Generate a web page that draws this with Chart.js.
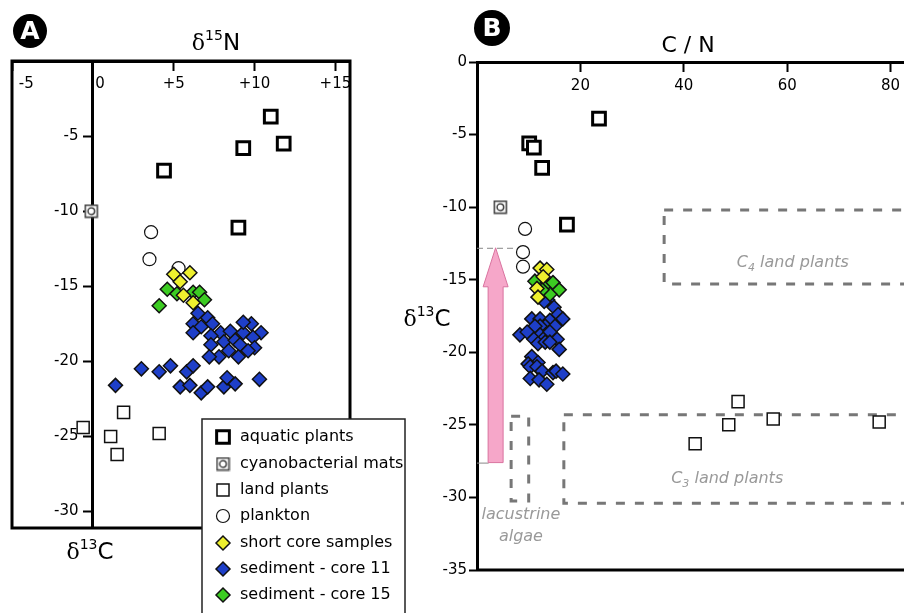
<!DOCTYPE html>
<html>
<head>
<meta charset="utf-8">
<script src="https://cdn.jsdelivr.net/npm/chart.js@4.4.0/dist/chart.umd.min.js"></script>
<style>
  body { margin: 0; background: #fff; width: 904px; height: 613px; overflow: hidden; position: relative; }
  #boxA { position: absolute; left: 0; top: 0; z-index: 2; }
  #boxB { position: absolute; left: 390px; top: 0; z-index: 1; }
</style>
</head>
<body>
<div id="boxA"><canvas id="chartA" width="420" height="613"></canvas></div>
<div id="boxB"><canvas id="chartB" width="514" height="613"></canvas></div>
<script>
// series names (legend order)
var seriesNames = ["aquatic plants", "cyanobacterial mats", "land plants", "plankton",
                   "short core samples", "sediment - core 11", "sediment - core 15"];

// panel A: [d15N, d13C]
var aquaticA = [[11.0, -3.7], [11.8, -5.5], [9.3, -5.8], [4.4, -7.3], [9.0, -11.1]];
var matsA = [[-0.1, -10.0]];
var landA = [[1.9, -23.4], [-0.6, -24.4], [4.1, -24.8], [1.1, -25.0], [1.5, -26.2]];
var planktonA = [[3.6, -11.4], [3.5, -13.2], [5.3, -13.8]];
var shortCoreA = [[5.0, -14.2], [6.0, -14.1], [5.4, -14.7], [5.6, -15.6], [6.2, -16.1]];
var core15A = [[4.6, -15.2], [5.2, -15.5], [4.1, -16.3], [6.2, -15.4], [6.6, -15.4], [6.9, -15.9]];
var core11A = [[6.5, -16.8], [6.2, -17.5], [7.1, -17.1], [6.7, -17.7], [6.2, -18.1], [7.4, -17.5],
  [7.9, -18.1], [7.3, -18.3], [8.5, -18.0], [9.3, -18.1], [9.8, -17.5], [9.3, -17.4], [10.4, -18.1],
  [9.9, -18.4], [8.1, -18.7], [8.8, -18.6], [7.3, -18.9], [9.1, -18.9], [10.0, -19.1], [9.6, -19.3],
  [8.4, -19.3], [7.8, -19.7], [7.2, -19.7], [9.0, -19.7], [3.0, -20.5], [4.8, -20.3], [4.1, -20.7],
  [5.8, -20.7], [6.2, -20.3], [1.4, -21.6], [5.4, -21.7], [6.0, -21.6], [6.7, -22.1], [7.1, -21.7],
  [8.1, -21.7], [8.3, -21.1], [8.8, -21.5], [10.3, -21.2]];

// panel B: [C/N, d13C]
var aquaticB = [[23.6, -3.9], [10.1, -5.6], [11.0, -5.9], [12.6, -7.3], [17.4, -11.2]];
var matsB = [[4.5, -10.0]];
var landB = [[50.5, -23.4], [57.3, -24.6], [77.8, -24.8], [48.7, -25.0], [42.2, -26.3]];
var planktonB = [[9.3, -11.5], [8.9, -13.1], [8.9, -14.1]];
var shortCoreB = [[12.2, -14.2], [13.5, -14.3], [12.8, -14.8], [11.6, -15.6], [11.8, -16.2]];
var core15B = [[11.2, -15.1], [13.5, -15.4], [14.7, -15.2], [15.9, -15.7], [14.1, -16.0], [12.6, -15.7]];
var core11B = [[13.7, -16.4], [13.0, -16.5], [14.9, -16.9], [15.7, -17.4], [16.6, -17.7], [10.6, -17.7],
  [12.2, -17.7], [14.1, -17.8], [13.2, -18.2], [10.8, -18.4], [12.2, -18.2], [11.2, -18.2], [15.1, -18.2],
  [8.3, -18.8], [9.7, -18.6], [12.2, -18.8], [14.1, -18.6], [11.0, -19.1], [12.8, -19.1], [15.5, -19.1],
  [11.8, -19.4], [13.2, -19.3], [14.1, -19.3], [15.9, -19.8], [10.6, -20.3], [11.8, -20.7], [9.9, -20.8],
  [10.3, -21.0], [11.6, -21.0], [12.6, -21.3], [14.7, -21.4], [15.3, -21.3], [16.6, -21.5], [10.3, -21.8],
  [12.0, -21.9], [13.5, -22.2]];

// ticks
var xTicksA = [-5, 0, 5, 10, 15];
var xLabelsA = ["-5", "0", "+5", "+10", "+15"];
var yTicksA = [-5, -10, -15, -20, -25, -30];
var xTicksB = [20, 40, 60, 80];
var yTicksB = [0, -5, -10, -15, -20, -25, -30, -35];

// reference ranges in panel B  [C/N from, C/N to, d13C low, d13C high]
var c4Range = [36.2, 95, -15.3, -10.2];
var c3Range = [16.8, 95, -30.4, -24.3];
var algaeRange = [6.6, 10.0, -30.25, -24.4];
var arrowCN = 3.6;
var arrowFrom = -27.6;
var arrowTo = -12.8;

var FONT = "'DejaVu Sans', sans-serif";

function matIcon() {
  var c = document.createElement('canvas');
  c.width = 15; c.height = 15;
  var g = c.getContext('2d');
  g.fillStyle = '#fff'; g.fillRect(1, 1, 13, 13);
  g.strokeStyle = '#444'; g.lineWidth = 1.6; g.strokeRect(1.5, 1.5, 12, 12);
  g.beginPath(); g.arc(7.5, 7.5, 3.3, 0, 2 * Math.PI);
  g.strokeStyle = '#222'; g.lineWidth = 1.3; g.stroke();
  return c;
}
var matImg = matIcon();

var styles = [
  {pointStyle: 'rect', radius: 9, borderWidth: 3, borderColor: '#000', backgroundColor: '#fff', order: 1},
  {pointStyle: matImg, radius: 7, borderWidth: 0, borderColor: '#444', backgroundColor: '#fff', order: 0},
  {pointStyle: 'rect', radius: 8.5, borderWidth: 1.5, borderColor: '#111', backgroundColor: '#fff', order: 2},
  {pointStyle: 'circle', radius: 6.5, borderWidth: 1.2, borderColor: '#111', backgroundColor: '#fff', order: 6},
  {pointStyle: 'rectRot', radius: 7, borderWidth: 1.5, borderColor: '#111', backgroundColor: '#eef02e', order: 3},
  {pointStyle: 'rectRot', radius: 7, borderWidth: 1.5, borderColor: '#111', backgroundColor: '#1e3fc8', order: 5},
  {pointStyle: 'rectRot', radius: 7, borderWidth: 1.5, borderColor: '#111', backgroundColor: '#3ccc22', order: 4}
];

function makeSets(groups) {
  return groups.map(function (g, i) {
    var s = styles[i];
    return {
      label: seriesNames[i],
      data: g.map(function (p) { return {x: p[0], y: p[1]}; }),
      pointStyle: s.pointStyle, pointRadius: s.radius, pointBorderWidth: s.borderWidth,
      pointBorderColor: s.borderColor, pointBackgroundColor: s.backgroundColor,
      order: s.order, clip: false
    };
  });
}

function rich(ctx, parts, x, y) {
  var w = 0;
  parts.forEach(function (p) { ctx.font = p[1]; w += ctx.measureText(p[0]).width; });
  var cx = x - w / 2;
  ctx.textAlign = 'left'; ctx.textBaseline = 'alphabetic';
  parts.forEach(function (p) {
    ctx.font = p[1];
    ctx.fillText(p[0], cx, y + (p[2] || 0));
    cx += ctx.measureText(p[0]).width;
  });
}

function d13C(ctx, x, y) {
  ctx.fillStyle = '#000';
  rich(ctx, [["\u03b4", "22px 'DejaVu Serif', serif"], ["13", "14px " + FONT, -10], ["C", "23px " + FONT]], x, y);
}

function badge(ctx, x, y, r, letter) {
  ctx.save();
  ctx.fillStyle = '#000';
  ctx.beginPath(); ctx.arc(x, y, r, 0, 2 * Math.PI); ctx.fill();
  ctx.fillStyle = '#fff';
  ctx.font = "bold 25px " + FONT;
  ctx.textAlign = 'center'; ctx.textBaseline = 'middle';
  ctx.fillText(letter, x, y + 1);
  ctx.restore();
}

function noPad(s) { s.paddingLeft = 0; s.paddingRight = 0; s.paddingTop = 0; s.paddingBottom = 0; }

var gridOpts = {drawOnChartArea: false, drawTicks: true, tickLength: 8, tickWidth: 2, tickColor: '#000'};
var borderOpts = {display: true, width: 3, color: '#000'};
var tickFont = {family: "'DejaVu Sans', sans-serif", size: 15};

var panelA = {
  id: 'panelA',
  beforeDatasetsDraw: function (chart) {
    var a = chart.chartArea, ctx = chart.ctx;
    ctx.save();
    ctx.strokeStyle = '#000'; ctx.lineWidth = 3;
    ctx.strokeRect(a.left, a.top, a.right - a.left, a.bottom - a.top);
    ctx.restore();
  },
  afterDraw: function (chart) {
    var a = chart.chartArea, ctx = chart.ctx;
    ctx.save();
    ctx.fillStyle = '#000';
    rich(ctx, [["\u03b4", "22px 'DejaVu Serif', serif"], ["15", "14px " + FONT, -10], ["N", "23px " + FONT]], a.left + 204, a.top - 11);
    d13C(ctx, a.left + 78, a.bottom + 31);
    badge(ctx, 30, 31, 17, 'A');

    // legend
    var lx = 202, ly = 419;
    ctx.fillStyle = '#fff';
    ctx.fillRect(lx, ly, 203, 240);
    ctx.strokeStyle = '#222'; ctx.lineWidth = 1.5;
    ctx.strokeRect(lx, ly, 203, 240);
    var rows = [437, 464, 490, 516, 543, 569, 595];
    chart.data.datasets.forEach(function (ds, i) {
      var s = styles[i];
      ctx.fillStyle = s.backgroundColor; ctx.strokeStyle = s.borderColor; ctx.lineWidth = s.borderWidth;
      Chart.helpers.drawPoint(ctx, {pointStyle: s.pointStyle, radius: s.radius, borderWidth: s.borderWidth, rotation: 0}, lx + 21, rows[i]);
      ctx.fillStyle = '#000';
      ctx.font = "16px " + FONT; ctx.textAlign = 'left'; ctx.textBaseline = 'middle';
      ctx.fillText(ds.label, lx + 38, rows[i]);
    });
    ctx.restore();
  }
};

var panelB = {
  id: 'panelB',
  beforeDatasetsDraw: function (chart) {
    var a = chart.chartArea, ctx = chart.ctx, xs = chart.scales.x, ys = chart.scales.y;
    ctx.save();
    // bottom frame
    ctx.strokeStyle = '#000'; ctx.lineWidth = 3;
    ctx.beginPath(); ctx.moveTo(a.left - 1, a.bottom); ctx.lineTo(a.right + 5, a.bottom); ctx.stroke();

    // dashed reference boxes
    ctx.strokeStyle = '#777'; ctx.lineWidth = 3; ctx.setLineDash([9, 10]);
    [c4Range, c3Range, algaeRange].forEach(function (r) {
      var x1 = xs.getPixelForValue(r[0]), x2 = xs.getPixelForValue(r[1]);
      var y1 = ys.getPixelForValue(r[3]), y2 = ys.getPixelForValue(r[2]);
      ctx.strokeRect(x1, y1, x2 - x1, y2 - y1);
    });

    // arrow guides
    var cx = xs.getPixelForValue(arrowCN), yt = ys.getPixelForValue(arrowTo), yb = ys.getPixelForValue(arrowFrom);
    ctx.strokeStyle = '#888'; ctx.lineWidth = 1; ctx.setLineDash([6, 4]);
    ctx.beginPath(); ctx.moveTo(a.left, yt + 0.5); ctx.lineTo(xs.getPixelForValue(7.5), yt + 0.5); ctx.stroke();
    ctx.setLineDash([]);
    ctx.beginPath(); ctx.moveTo(a.left, yb + 0.5); ctx.lineTo(cx - 7, yb + 0.5); ctx.stroke();

    // pink arrow
    var yh = yt + 39;
    ctx.beginPath();
    ctx.moveTo(cx, yt); ctx.lineTo(cx + 12.5, yh); ctx.lineTo(cx + 7.5, yh); ctx.lineTo(cx + 7.5, yb);
    ctx.lineTo(cx - 7.5, yb); ctx.lineTo(cx - 7.5, yh); ctx.lineTo(cx - 12.5, yh); ctx.closePath();
    ctx.fillStyle = '#f6a7c9'; ctx.fill();
    ctx.strokeStyle = '#d9739f'; ctx.lineWidth = 1; ctx.stroke();

    // labels
    ctx.fillStyle = '#999';
    var it = "italic 16px " + FONT, sub = "italic 11px " + FONT;
    rich(ctx, [["C", it], ["4", sub, 4], [" land plants", it]], xs.getPixelForValue(61.1), ys.getPixelForValue(-13.7) + 6);
    rich(ctx, [["C", it], ["3", sub, 4], [" land plants", it]], xs.getPixelForValue(48.4), ys.getPixelForValue(-28.6) + 6);
    rich(ctx, [["lacustrine", it]], xs.getPixelForValue(8.5), ys.getPixelForValue(-31.1) + 6);
    rich(ctx, [["algae", it]], xs.getPixelForValue(8.5), ys.getPixelForValue(-32.6) + 6);
    ctx.restore();
  },
  afterDraw: function (chart) {
    var a = chart.chartArea, ctx = chart.ctx;
    ctx.save();
    ctx.fillStyle = '#000';
    rich(ctx, [["C / N", "22px " + FONT]], a.left + 211, a.top - 10);
    d13C(ctx, a.left - 50, (a.top + a.bottom) / 2 + 10);
    badge(ctx, 102, 28, 18, 'B');
    ctx.restore();
  }
};

new Chart(document.getElementById('chartA'), {
  type: 'scatter',
  data: {datasets: makeSets([aquaticA, matsA, landA, planktonA, shortCoreA, core11A, core15A])},
  options: {
    responsive: false, animation: false,
    layout: {autoPadding: false, padding: {left: 12, top: 61, right: 70, bottom: 85}},
    plugins: {legend: {display: false}, tooltip: {enabled: false}},
    scales: {
      x: {
        type: 'linear', position: {y: 0}, min: -5, max: 15.9,
        afterBuildTicks: function (s) { s.ticks = xTicksA.map(function (v) { return {value: v}; }); },
        afterFit: noPad,
        grid: gridOpts, border: borderOpts,
        ticks: {
          padding: 6, color: '#000', font: tickFont, maxRotation: 0, autoSkip: false,
          callback: function (v) {
            var t = xLabelsA[xTicksA.indexOf(v)];
            if (v === -5) return '      ' + t;
            if (v === 0) return '   ' + t;
            return t;
          }
        }
      },
      y: {
        type: 'linear', position: {x: 0}, min: -31.1, max: 0,
        afterBuildTicks: function (s) { s.ticks = yTicksA.map(function (v) { return {value: v}; }); },
        afterFit: noPad,
        grid: gridOpts, border: borderOpts,
        ticks: {padding: 3, color: '#000', font: tickFont, autoSkip: false, callback: function (v) { return v + '   '; }}
      }
    }
  },
  plugins: [panelA]
});

new Chart(document.getElementById('chartB'), {
  type: 'scatter',
  data: {datasets: makeSets([aquaticB, matsB, landB, planktonB, shortCoreB, core11B, core15B])},
  options: {
    responsive: false, animation: false,
    layout: {autoPadding: false, padding: {left: 47, top: 62, right: 0, bottom: 43}},
    plugins: {legend: {display: false}, tooltip: {enabled: false}},
    scales: {
      x: {
        type: 'linear', position: {y: 0}, min: 0, max: 82.6,
        afterBuildTicks: function (s) { s.ticks = xTicksB.map(function (v) { return {value: v}; }); },
        afterFit: noPad,
        grid: gridOpts, border: borderOpts,
        ticks: {padding: 7, color: '#000', font: tickFont, maxRotation: 0, autoSkip: false}
      },
      y: {
        type: 'linear', position: 'left', min: -35, max: 0,
        afterBuildTicks: function (s) { s.ticks = yTicksB.map(function (v) { return {value: v}; }); },
        afterFit: function (s) { s.width = 40; noPad(s); },
        grid: gridOpts, border: borderOpts,
        ticks: {padding: 2, color: '#000', font: tickFont, autoSkip: false}
      }
    }
  },
  plugins: [panelB]
});
</script>
</body>
</html>
